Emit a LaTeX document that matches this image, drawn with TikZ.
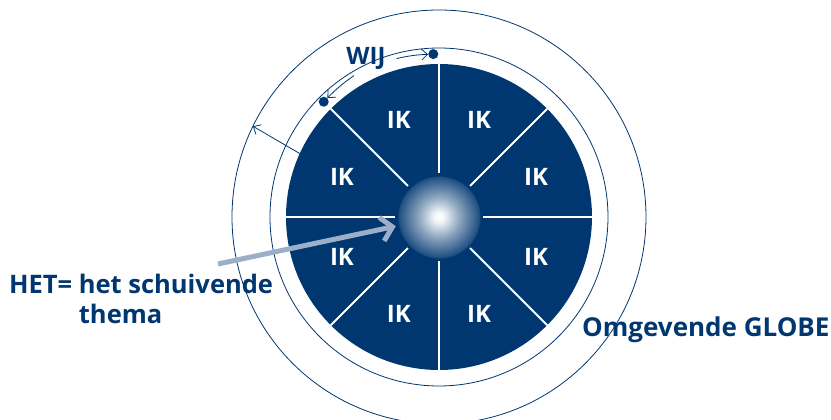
\documentclass[tikz,border=0pt]{standalone}
\usepackage{fontspec}
\setmainfont{Open Sans}
\usetikzlibrary{arrows.meta, positioning, calc}

\definecolor{globeblue}{RGB}{0,55,112}
\definecolor{hetgrey}{RGB}{155,176,200}
\pgfdeclareradialshading{glowshade}{\pgfpoint{0bp}{0bp}}{%
  color(0bp)=(white); color(3bp)=(white!95!globeblue);
  color(12bp)=(globeblue!45!white); color(23.5bp)=(globeblue!88!white);
  color(24bp)=(globeblue); color(50bp)=(globeblue)}

\begin{document}
\begin{tikzpicture}[
  x=1pt, y=1pt,
  ring/.style={draw=globeblue, line width=0.8pt},
  spoke/.style={draw=white, line width=2pt},
  ik/.style={text=white, font=\bfseries\fontsize{24}{24}\selectfont},
  lbl/.style={text=globeblue, align=left, inner sep=0pt, font=\bfseries\fontsize{25.5}{30}\selectfont},
  thin/.style={draw=globeblue, line width=0.8pt, -{Straight Barb[length=6pt, width=11pt]}},
  dot/.style={circle, fill=globeblue, inner sep=0pt, minimum size=10pt},
  het/.style={draw=hetgrey, line width=5pt, -{Straight Barb[length=11pt, width=24pt]}}
]
\useasboundingbox (-439,-203) rectangle (392,217);

% globe rings and the disk
\draw[ring] (0,0) circle (207);
\draw[ring] (0,0) circle (169);
\fill[globeblue] (0,0) circle (153);
\shade[shading=glowshade] (0,0) circle (43);
\node[circle, minimum size=88pt, inner sep=0pt] (glow) at (0,0) {};

% spokes and IK segments
\foreach \a in {0,45,...,315}
  \draw[spoke] (\a:44) -- (\a:153);
\foreach \a/\n in {22.5/1, 67.5/2, 112.5/3, 157.5/4, 202.5/5, 247.5/6, 292.5/7, 337.5/8}
  \node[ik] (ik\n) at (\a:105) {IK};

% WIJ with its dots
\node[dot] (dotA) at (92:163) {};
\node[dot] (dotB) at (135:163) {};
\node[text=globeblue, font=\bfseries\fontsize{24}{24}\selectfont] (wij) at (-73,159) {WIJ};
\coordinate (wijR) at (105:164);
\coordinate (wijL) at (121:165);
\draw[thin] (wijR) to[bend left=5] (dotA);
\draw[thin] (wijL) to[bend right=5] (dotB);

% arrow out to the globe
\coordinate (rimIn) at (155.5:153);
\coordinate (rimOut) at (154:207);
\draw[thin] (rimIn) -- (rimOut);

% labels
\node[lbl, anchor=base west] (het) at (-430,-107) {HET= het schuivende\\\phantom{HET= }thema};
\node[lbl, anchor=base west, font=\bfseries\fontsize{26}{30}\selectfont] (globe) at (143,-120) {Omgevende GLOBE};
\coordinate (hetTail) at (-221,-47);
\draw[het] (hetTail) -- (glow);
\end{tikzpicture}
\end{document}
